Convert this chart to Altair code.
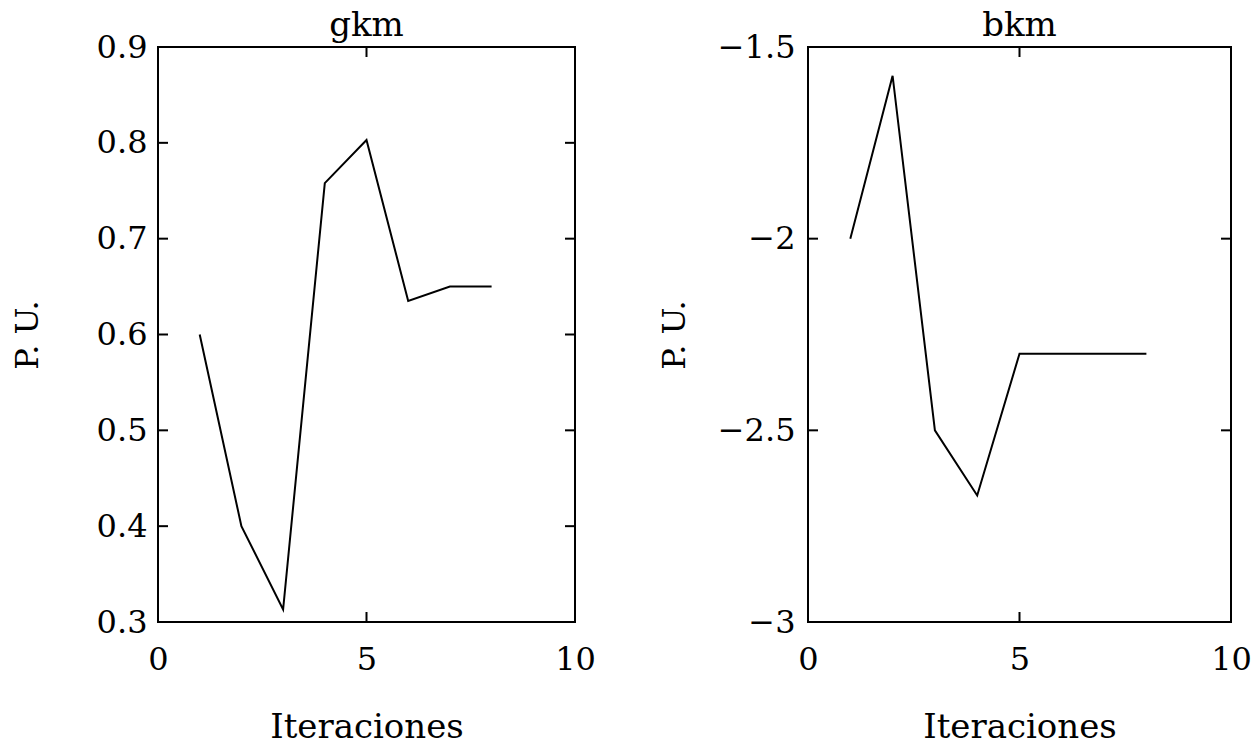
import altair as alt
import pandas as pd

iters = [1, 2, 3, 4, 5, 6, 7, 8]
gkm = [0.60, 0.40, 0.313, 0.758, 0.803, 0.635, 0.650, 0.650]
bkm = [-2.00, -1.575, -2.50, -2.67, -2.30, -2.30, -2.30, -2.30]

x_ticks = [0, 5, 10]
x_tick_marks = [5]
gkm_ticks = [0.3, 0.4, 0.5, 0.6, 0.7, 0.8, 0.9]
bkm_ticks = [-3, -2.5, -2, -1.5]

FONT = "DejaVu Serif"
TICK_LEN = 10


def panel(values, name, yticks, ydomain, width, height, label_pad, title_pad):
    df = pd.DataFrame({"it": iters, "v": values})
    xs = alt.Scale(domain=[0, 10], nice=False, zero=False)
    ys = alt.Scale(domain=ydomain, nice=False, zero=False)
    main = alt.Chart(df).mark_line(color="black", strokeWidth=2).encode(
        x=alt.X("it:Q", scale=xs, axis=alt.Axis(
            orient="bottom", values=x_ticks, title="Iteraciones", grid=False,
            domain=False, ticks=False, labelPadding=22, labelFont=FONT,
            labelFontSize=32, labelColor="black", titleFont=FONT,
            titleFontSize=34, titleFontWeight="normal", titleColor="black",
            titlePadding=35, labelFlush=False)),
        y=alt.Y("v:Q", scale=ys, axis=alt.Axis(
            orient="left", values=yticks, format="~g", title="P. U.", grid=False,
            domain=False, ticks=False, labelPadding=label_pad, labelFont=FONT,
            labelFontSize=32, labelColor="black", titleFont=FONT,
            titleFontSize=32, titleFontWeight="normal", titleColor="black",
            titlePadding=title_pad, labelFlush=False)),
    )
    ydf = pd.DataFrame({"t": yticks})
    xdf = pd.DataFrame({"t": x_tick_marks})
    ytick_l = alt.Chart(ydf).mark_rule(color="black", strokeWidth=2).encode(
        y=alt.Y("t:Q", scale=ys), x=alt.value(0), x2=alt.value(TICK_LEN))
    ytick_r = alt.Chart(ydf).mark_rule(color="black", strokeWidth=2).encode(
        y=alt.Y("t:Q", scale=ys), x=alt.value(width - TICK_LEN), x2=alt.value(width))
    xtick_b = alt.Chart(xdf).mark_rule(color="black", strokeWidth=2).encode(
        x=alt.X("t:Q", scale=xs), y=alt.value(height - TICK_LEN), y2=alt.value(height))
    xtick_t = alt.Chart(xdf).mark_rule(color="black", strokeWidth=2).encode(
        x=alt.X("t:Q", scale=xs), y=alt.value(0), y2=alt.value(TICK_LEN))
    return alt.layer(main, ytick_l, ytick_r, xtick_b, xtick_t).properties(
        width=width, height=height,
        title=alt.TitleParams(name, font=FONT, fontSize=34, fontWeight="normal",
                              color="black", offset=-12),
    )


left = panel(gkm, "gkm", gkm_ticks, [0.3, 0.9], 417, 575, 11, 52)
right = panel(bkm, "bkm", bkm_ticks, [-3, -1.5], 423, 575, 13, 26)

chart = alt.hconcat(left, right, spacing=60).configure(
    background="white",
    padding={"left": 10, "top": 8, "right": 5, "bottom": 5},
    view=alt.ViewConfig(stroke="black", strokeWidth=2),
)

chart.save("out.html", embed_options={"renderer": "svg", "actions": False})
